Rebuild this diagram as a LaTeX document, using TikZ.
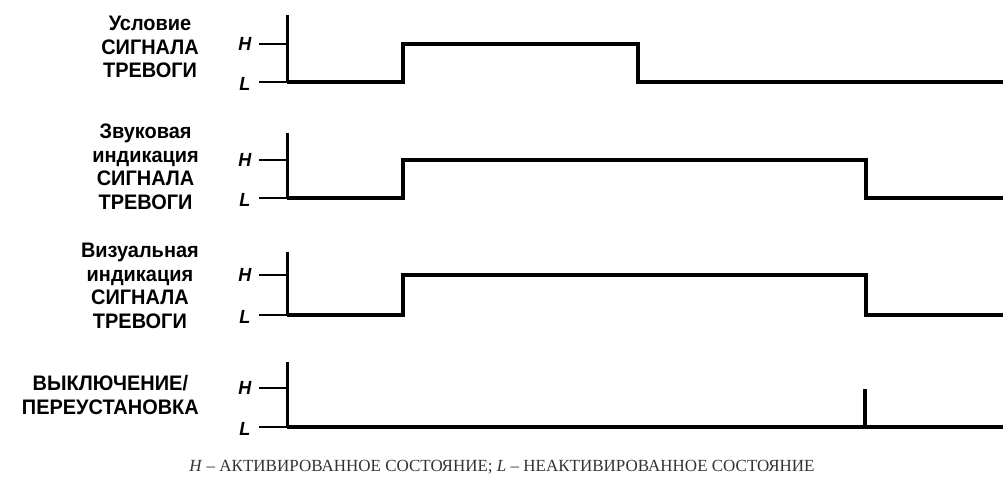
\documentclass[tikz,border=0pt]{standalone}
\usepackage{fontspec}
\setmainfont{Liberation Serif}
\newfontfamily\lblfont[FakeStretch=0.95]{Liberation Sans}
\begin{document}
\begin{tikzpicture}[x=1pt,y=-1pt,
  lbl/.style={font=\lblfont\bfseries\fontsize{21}{23.5}\selectfont,align=center,anchor=east,inner sep=0pt},
  lvl/.style={font=\lblfont\bfseries\itshape\fontsize{19}{19}\selectfont,inner sep=0pt},
  axis/.style={line width=3pt},
  tick/.style={line width=2pt},
  signal/.style={line width=4pt,line join=miter}]
  \useasboundingbox (0,0) rectangle (1003,482);

  % panel 1: alarm condition
  \node[lbl] (cond) at (199,47) {Условие\\СИГНАЛА\\ТРЕВОГИ};
  \node[lvl] (h1) at (245,44) {H};
  \node[lvl] (l1) at (245,84) {L};
  \coordinate (top1) at (287,15);
  \coordinate (base1) at (287,82);
  \draw[axis] (top1) -- (base1);
  \draw[tick] (259,44) -- (top1 |- h1);
  \draw[tick] (259,82) -- (base1);
  \draw[signal] (base1) -- (403,82) -- (403,44) -- (638,44) -- (638,82) -- (1003,82);

  % panel 2: audible indication
  \node[lbl] (sound) at (199,167) {Звуковая\\индикация\\СИГНАЛА\\ТРЕВОГИ};
  \node[lvl] (h2) at (245,160) {H};
  \node[lvl] (l2) at (245,200) {L};
  \coordinate (top2) at (287,133);
  \coordinate (base2) at (287,198);
  \draw[axis] (top2) -- (base2);
  \draw[tick] (259,160) -- (top2 |- h2);
  \draw[tick] (259,198) -- (base2);
  \draw[signal] (base2) -- (403,198) -- (403,160) -- (866,160) -- (866,198) -- (1003,198);

  % panel 3: visual indication
  \node[lbl] (visual) at (199,286) {Визуальная\\индикация\\СИГНАЛА\\ТРЕВОГИ};
  \node[lvl] (h3) at (245,275) {H};
  \node[lvl] (l3) at (245,317) {L};
  \coordinate (top3) at (287,252);
  \coordinate (base3) at (287,315);
  \draw[axis] (top3) -- (base3);
  \draw[tick] (259,275) -- (top3 |- h3);
  \draw[tick] (259,315) -- (base3);
  \draw[signal] (base3) -- (403,315) -- (403,275) -- (866,275) -- (866,315) -- (1003,315);

  % panel 4: reset
  \node[lbl] (reset) at (199,395) {ВЫКЛЮЧЕНИЕ/\\ПЕРЕУСТАНОВКА};
  \node[lvl] (h4) at (245,388) {H};
  \node[lvl] (l4) at (245,429) {L};
  \coordinate (top4) at (287,362);
  \coordinate (base4) at (287,427);
  \draw[axis] (top4) -- (base4);
  \draw[tick] (259,388) -- (top4 |- h4);
  \draw[tick] (259,427) -- (base4);
  \draw[signal] (base4) -- (1003,427);
  \draw[signal] (865,427) -- (865,389);

  \node[font=\fontsize{17}{17}\selectfont,text=black!80] (note) at (502,467)
    {\textit{H} – АКТИВИРОВАННОЕ СОСТОЯНИЕ; \textit{L} – НЕАКТИВИРОВАННОЕ СОСТОЯНИЕ};
\end{tikzpicture}
\end{document}
